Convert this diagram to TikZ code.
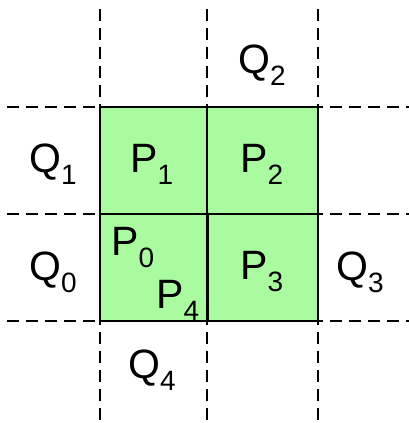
\documentclass[tikz,border=0pt]{standalone}
\usepackage{fontspec}
\setmainfont{Liberation Sans}
\usepackage{tikz}
\usetikzlibrary{positioning}
\definecolor{cellgreen}{RGB}{170,250,160}
\newcommand{\lbl}[2]{#1\raisebox{-12pt}{\fontsize{28}{28}\selectfont #2}}

\begin{document}
\begin{tikzpicture}[x=1pt,y=-1pt,
  gridline/.style={line width=2pt,dash pattern=on 12pt off 7pt},
  cell/.style={fill=cellgreen,draw=black,line width=2.8pt},
  lab/.style={anchor=base west,inner sep=0pt,font=\fontsize{41}{41}\selectfont}]
\useasboundingbox (0,0) rectangle (409,423);
% green cells
\fill[cellgreen] (100,107) rectangle (318,321);
\foreach \xa/\ya/\xb/\yb in {100/107/207/214,207/107/318/214,100/214/207/321,208/214/318/321}{
\draw[cell] (\xa,\ya) rectangle (\xb,\yb);
}
% dashed grid
\foreach \g in {100,207,318}{
\draw[gridline] (\g,9) -- (\g,423);
}
\foreach \g in {107,214,321}{
\draw[gridline] (7,\g) -- (409,\g);
}
% labels
\node[lab] (p1) at (130,172) {\lbl{P}{1}};
\node[lab] (p2) at (240,172) {\lbl{P}{2}};
\node[lab] (p3) at (240,279) {\lbl{P}{3}};
\node[lab] (p0) at (111,255) {\lbl{P}{0}};
\node[lab] (p4) at (156,308) {\lbl{P}{4}};
\node[lab] (q0) at (29,280) {\lbl{Q}{0}};
\node[lab] (q1) at (29,172) {\lbl{Q}{1}};
\node[lab] (q2) at (238,73) {\lbl{Q}{2}};
\node[lab] (q3) at (336,280) {\lbl{Q}{3}};
\node[lab] (q4) at (128,378) {\lbl{Q}{4}};
\end{tikzpicture}
\end{document}
